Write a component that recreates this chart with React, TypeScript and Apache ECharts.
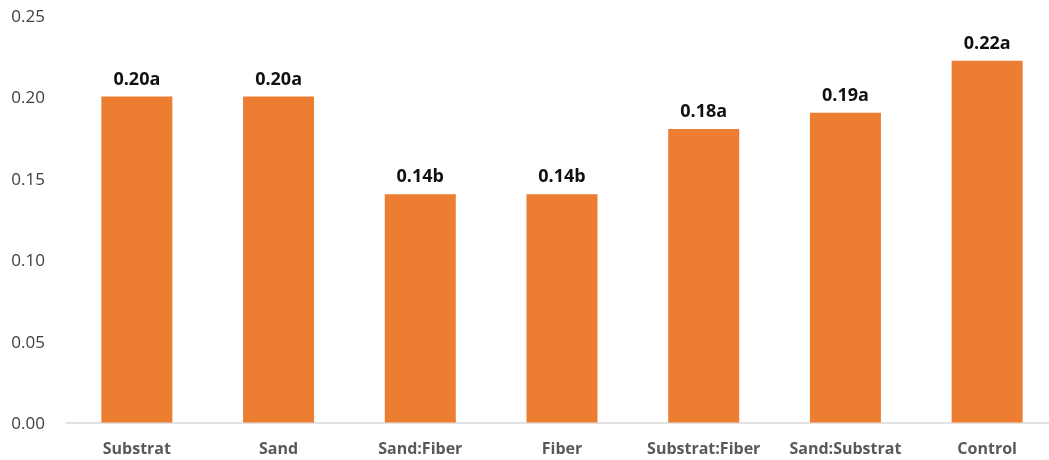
import React, { useEffect, useRef } from "react";
import * as echarts from "echarts";

const categories = ["Substrat", "Sand", "Sand:Fiber", "Fiber", "Substrat:Fiber", "Sand:Substrat", "Control"];
const values = [0.2, 0.2, 0.14, 0.14, 0.18, 0.19, 0.222];
const letters = ["a", "a", "b", "b", "a", "a", "a"];
const yTicks = [0, 0.05, 0.1, 0.15, 0.2, 0.25];

export default function App() {
  const ref = useRef<HTMLDivElement>(null);
  useEffect(() => {
    if (!ref.current) return;
    const chart = echarts.init(ref.current, null, { renderer: "svg" });
    chart.setOption({
      animation: false,
      grid: { left: 66, right: 0, top: 15, bottom: 37.5, containLabel: false },
      xAxis: {
        type: "category",
        data: categories,
        axisLine: { show: true, lineStyle: { color: "#d9d9d9", width: 1.5 } },
        axisTick: { show: false },
        axisLabel: {
          interval: 0,
          color: "#595959",
          fontFamily: "Open Sans",
          fontWeight: "bold",
          fontSize: 16,
          margin: 17,
        },
      },
      yAxis: {
        type: "value",
        min: 0,
        max: yTicks[yTicks.length - 1],
        interval: 0.05,
        splitLine: { show: false },
        axisLine: { show: false },
        axisTick: { show: false },
        axisLabel: {
          color: "#404040",
          fontFamily: "Open Sans",
          fontSize: 17,
          margin: 21,
          formatter: (v: number) => v.toFixed(2),
        },
      },
      series: [
        {
          type: "bar",
          data: values,
          barWidth: 71,
          itemStyle: { color: "#ED7D31" },
          label: {
            show: true,
            position: "top",
            distance: 10,
            color: "#111",
            fontFamily: "Open Sans",
            fontWeight: "bold",
            fontSize: 18,
            formatter: (p: any) => p.value.toFixed(2) + letters[p.dataIndex],
          },
        },
      ],
    });
    return () => chart.dispose();
  }, []);
  return <div ref={ref} style={{ position: "fixed", left: 0, top: 0, width: 1058, height: 460 }} />;
}
